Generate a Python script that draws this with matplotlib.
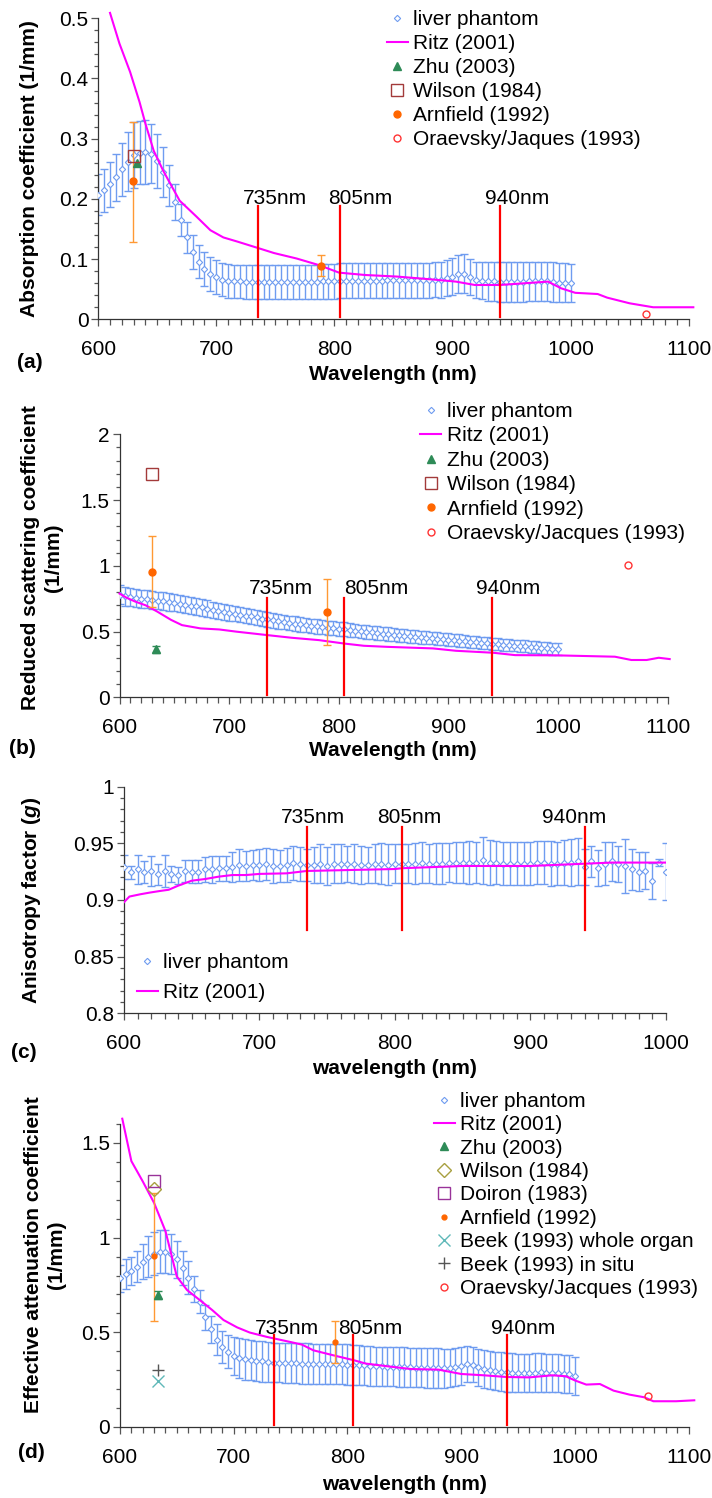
import numpy as np
import matplotlib.pyplot as plt
from matplotlib.lines import Line2D
from matplotlib.ticker import MultipleLocator, FuncFormatter

plt.rcParams['font.family'] = ['Liberation Sans', 'DejaVu Sans']
plt.rcParams['mathtext.fontset'] = 'custom'
plt.rcParams['mathtext.it'] = 'Liberation Sans:bold:italic'
plt.rcParams['mathtext.rm'] = 'Liberation Sans:bold'
plt.rcParams['font.size'] = 15

# ---------------- data ----------------
wl = np.arange(600, 1001, 5)          # liver phantom wavelengths (nm)
marks_nm = [735, 805, 940]            # laser wavelengths

mua_liver = [0.207, 0.214, 0.224, 0.236, 0.249, 0.262, 0.273, 0.277, 0.278, 0.275,
             0.263, 0.245, 0.223, 0.195, 0.165, 0.136, 0.112, 0.096, 0.083, 0.075,
             0.070, 0.066, 0.064, 0.063, 0.063, 0.062, 0.062, 0.062, 0.062, 0.062,
             0.062, 0.062, 0.062, 0.062, 0.062, 0.062, 0.062, 0.062, 0.063, 0.063,
             0.063, 0.064, 0.064, 0.064, 0.064, 0.064, 0.064, 0.064, 0.064, 0.065,
             0.065, 0.065, 0.065, 0.065, 0.065, 0.065, 0.065, 0.066, 0.066, 0.068,
             0.071, 0.075, 0.076, 0.070, 0.066, 0.064, 0.063, 0.063, 0.062, 0.062,
             0.062, 0.062, 0.062, 0.063, 0.063, 0.063, 0.063, 0.062, 0.061, 0.061,
             0.060]
mua_err = [0.034, 0.035, 0.037, 0.039, 0.044, 0.049, 0.055, 0.053, 0.053, 0.049,
           0.045, 0.042, 0.034, 0.030, 0.027, 0.026, 0.028, 0.028, 0.028, 0.028,
           0.028, 0.028, 0.028, 0.028, 0.028, 0.028, 0.028, 0.028, 0.028, 0.028,
           0.028, 0.028, 0.028, 0.028, 0.029, 0.029, 0.029, 0.029, 0.029, 0.029,
           0.029, 0.029, 0.029, 0.029, 0.029, 0.029, 0.029, 0.029, 0.029, 0.029,
           0.029, 0.029, 0.029, 0.029, 0.029, 0.029, 0.029, 0.029, 0.030, 0.030,
           0.031, 0.032, 0.032, 0.030, 0.030, 0.031, 0.032, 0.033, 0.033, 0.033,
           0.033, 0.033, 0.033, 0.033, 0.033, 0.033, 0.033, 0.033, 0.033, 0.032,
           0.032]

mus_liver = [0.780, 0.770, 0.762, 0.756, 0.750, 0.746, 0.742, 0.737, 0.732, 0.726,
             0.720, 0.713, 0.706, 0.699, 0.692, 0.684, 0.676, 0.668, 0.660, 0.652,
             0.645, 0.638, 0.630, 0.623, 0.616, 0.608, 0.600, 0.593, 0.586, 0.579,
             0.573, 0.567, 0.561, 0.555, 0.550, 0.545, 0.540, 0.535, 0.530, 0.526,
             0.522, 0.518, 0.513, 0.508, 0.503, 0.498, 0.494, 0.490, 0.486, 0.482,
             0.478, 0.474, 0.470, 0.466, 0.462, 0.458, 0.455, 0.451, 0.447, 0.444,
             0.440, 0.436, 0.432, 0.428, 0.424, 0.420, 0.416, 0.412, 0.408, 0.404,
             0.401, 0.398, 0.395, 0.392, 0.389, 0.385, 0.382, 0.378, 0.375, 0.371,
             0.368]
mus_err = [0.072, 0.071, 0.070, 0.069, 0.068, 0.068, 0.067, 0.066, 0.066, 0.065,
           0.065, 0.064, 0.064, 0.063, 0.063, 0.062, 0.062, 0.061, 0.061, 0.060,
           0.060, 0.059, 0.059, 0.058, 0.058, 0.057, 0.057, 0.057, 0.056, 0.056,
           0.056, 0.055, 0.055, 0.055, 0.054, 0.054, 0.054, 0.053, 0.053, 0.053,
           0.053, 0.052, 0.052, 0.052, 0.051, 0.051, 0.051, 0.051, 0.050, 0.050,
           0.050, 0.050, 0.049, 0.049, 0.049, 0.049, 0.048, 0.048, 0.048, 0.048,
           0.048, 0.047, 0.047, 0.047, 0.047, 0.047, 0.046, 0.046, 0.046, 0.046,
           0.046, 0.046, 0.045, 0.045, 0.045, 0.045, 0.045, 0.045, 0.045, 0.045,
           0.045]

g_liver = [0.9294, 0.9244, 0.927, 0.9247, 0.9256, 0.9226, 0.9256, 0.923, 0.922, 0.9256,
           0.925, 0.925, 0.927, 0.927, 0.928, 0.928, 0.929, 0.931, 0.930, 0.931,
           0.931, 0.9315, 0.930, 0.930, 0.931, 0.9324, 0.932, 0.931, 0.931, 0.932,
           0.930, 0.932, 0.932, 0.932, 0.932, 0.931, 0.931, 0.932, 0.932, 0.931,
           0.932, 0.932, 0.932, 0.932, 0.933, 0.932, 0.932, 0.932, 0.933, 0.933,
           0.933, 0.933, 0.933, 0.935, 0.933, 0.933, 0.932, 0.932, 0.932, 0.932,
           0.932, 0.933, 0.933, 0.932, 0.932, 0.933, 0.933, 0.934, 0.929, 0.934,
           0.928, 0.932, 0.934, 0.932, 0.930, 0.927, 0.925, 0.926, 0.917, 0.933,
           0.925]
g_err = [0.0105, 0.006, 0.0125, 0.010, 0.013, 0.0095, 0.0145, 0.007, 0.0075, 0.0095,
         0.010, 0.010, 0.011, 0.012, 0.011, 0.011, 0.013, 0.014, 0.013, 0.013,
         0.014, 0.014, 0.015, 0.014, 0.015, 0.015, 0.015, 0.014, 0.016, 0.017,
         0.017, 0.017, 0.017, 0.016, 0.017, 0.017, 0.016, 0.017, 0.018, 0.018,
         0.017, 0.017, 0.017, 0.018, 0.018, 0.017, 0.018, 0.018, 0.017, 0.018,
         0.018, 0.019, 0.018, 0.021, 0.020, 0.019, 0.019, 0.019, 0.019, 0.019,
         0.019, 0.019, 0.019, 0.020, 0.019, 0.020, 0.021, 0.021, 0.016, 0.014,
         0.016, 0.019, 0.017, 0.016, 0.024, 0.018, 0.017, 0.016, 0.016, 0.003,
         0.025]

mueff_liver = [0.785, 0.808, 0.824, 0.847, 0.873, 0.900, 0.915, 0.926, 0.926, 0.912,
               0.886, 0.842, 0.789, 0.729, 0.662, 0.579, 0.515, 0.462, 0.424, 0.397,
               0.376, 0.365, 0.358, 0.353, 0.349, 0.346, 0.342, 0.340, 0.340, 0.339,
               0.338, 0.337, 0.335, 0.334, 0.333, 0.333, 0.332, 0.332, 0.331, 0.331,
               0.330, 0.328, 0.327, 0.325, 0.322, 0.321, 0.320, 0.319, 0.318, 0.317,
               0.316, 0.315, 0.314, 0.313, 0.312, 0.312, 0.311, 0.311, 0.312, 0.315,
               0.322, 0.333, 0.330, 0.316, 0.305, 0.300, 0.296, 0.292, 0.288, 0.287,
               0.286, 0.285, 0.286, 0.287, 0.288, 0.287, 0.286, 0.284, 0.280, 0.279,
               0.268]
mueff_err = [0.073, 0.078, 0.075, 0.080, 0.091, 0.106, 0.113, 0.115, 0.115, 0.105,
             0.097, 0.090, 0.088, 0.067, 0.060, 0.066, 0.070, 0.080, 0.084, 0.088,
             0.100, 0.104, 0.109, 0.107, 0.107, 0.106, 0.106, 0.105, 0.105, 0.105,
             0.106, 0.106, 0.106, 0.107, 0.107, 0.107, 0.107, 0.106, 0.106, 0.106,
             0.106, 0.106, 0.106, 0.105, 0.104, 0.104, 0.104, 0.104, 0.104, 0.104,
             0.104, 0.104, 0.104, 0.104, 0.104, 0.104, 0.104, 0.103, 0.102, 0.100,
             0.098, 0.095, 0.095, 0.097, 0.100, 0.101, 0.101, 0.102, 0.102, 0.102,
             0.102, 0.102, 0.102, 0.102, 0.101, 0.101, 0.101, 0.101, 0.101, 0.101,
             0.100]

# Ritz (2001)
ritz_a_wl = [610, 618, 627, 635, 640, 647, 655, 660, 669, 683, 695, 706, 718, 736, 749,
             768, 787, 804, 826, 853, 884, 903, 919, 940, 962, 981, 992, 1004, 1023,
             1031, 1050, 1070, 1104]
ritz_a = [0.509, 0.458, 0.411, 0.361, 0.325, 0.280, 0.247, 0.229, 0.197, 0.171, 0.148,
          0.136, 0.129, 0.118, 0.110, 0.101, 0.090, 0.0775, 0.0736, 0.071, 0.066,
          0.0626, 0.057, 0.057, 0.060, 0.0626, 0.0515, 0.044, 0.042, 0.036, 0.0266,
          0.020, 0.020]
ritz_b_wl = [600, 606, 614, 624, 634, 647, 657, 674, 691, 707, 735, 757, 782, 805, 823,
             844, 886, 907, 941, 961, 1000, 1052, 1067, 1081, 1092, 1102]
ritz_b = [0.790, 0.760, 0.730, 0.700, 0.655, 0.590, 0.550, 0.525, 0.517, 0.500, 0.474,
          0.454, 0.436, 0.410, 0.393, 0.385, 0.373, 0.355, 0.340, 0.322, 0.320, 0.310,
          0.285, 0.285, 0.302, 0.292]
ritz_c_wl = [600, 604, 612, 619, 627, 633, 640, 650, 660, 670, 680, 690, 700, 720, 735,
             800, 805, 850, 900, 940, 960, 1000]
ritz_c = [0.898, 0.903, 0.905, 0.9065, 0.908, 0.909, 0.9126, 0.917, 0.9185, 0.9206,
          0.922, 0.922, 0.923, 0.9235, 0.9256, 0.9273, 0.928, 0.930, 0.930, 0.932,
          0.933, 0.933]
ritz_d_wl = [602, 610, 620, 630, 640, 650, 659, 670, 681, 691, 703, 714, 729, 752, 760,
             770, 788, 806, 816, 836, 856, 880, 900, 920, 940, 960, 980, 992, 1000, 1010,
             1022, 1034, 1048, 1061, 1069, 1089, 1105]
ritz_d = [1.628, 1.404, 1.297, 1.183, 1.034, 0.794, 0.723, 0.671, 0.618, 0.565, 0.526,
          0.499, 0.476, 0.446, 0.435, 0.405, 0.378, 0.352, 0.335, 0.320, 0.306, 0.303,
          0.280, 0.273, 0.264, 0.262, 0.273, 0.268, 0.246, 0.224, 0.227, 0.192, 0.171,
          0.157, 0.136, 0.136, 0.141]

# literature values
zhu_wl = [633]
zhu_a, zhu_b, zhu_d = [0.259], [0.365], [0.697]
zhu_b_err, zhu_d_err = [0.025], [0.02]
wilson_wl = [630]
wilson_a, wilson_b, wilson_d = [0.271], [1.70], [1.256]
doiron_wl, doiron_d = [630], [1.30]
arnfield_wl = [629.5, 789]
arnfield_a, arnfield_a_lo, arnfield_a_hi = [0.229, 0.089], [0.128, 0.0725], [0.328, 0.106]
arnfield_b, arnfield_b_lo, arnfield_b_hi = [0.954, 0.651], [0.69, 0.398], [1.227, 0.897]
arnfield_d, arnfield_d_lo, arnfield_d_hi = [0.903, 0.449], [0.561, 0.338], [1.235, 0.561]
beek_wl = [633]
beek_whole_d, beek_situ_d = [0.242], [0.30]
oraevsky_wl = [1064]
oraevsky_a, oraevsky_b, oraevsky_d = [0.008], [1.01], [0.165]

# ---------------- colours ----------------
C_LIVER = '#6f9cf0'
C_CAP = '#3f6fe8'
C_RITZ = '#ff00ff'
C_ZHU = '#2e8b57'
C_WILSON = '#a33a3a'
C_WILSON_D = '#a8a040'
C_DOIRON = '#993399'
C_ARN = '#ff6600'
C_ARN_ERR = '#ff9933'
C_ORA = '#ff3333'
C_BEEK_W = '#5fb8b8'
C_BEEK_S = '#555555'

W, H = 712, 1498
fig = plt.figure(figsize=(W / 100, H / 100), dpi=100)


def px_axes(left, top, right, bottom):
    return fig.add_axes([left / W, 1 - bottom / H, (right - left) / W, (bottom - top) / H])


def fig_text(x, y, s, **kw):
    fig.text(x / W, 1 - y / H, s, ha='center', va='center', **kw)


def style_axes(ax, xlim, ylim, ymaj, ymin):
    ax.set_xlim(*xlim)
    ax.set_ylim(*ylim)
    for side in ('top', 'right'):
        ax.spines[side].set_visible(False)
    for side in ('left', 'bottom'):
        ax.spines[side].set_color('#333333')
        ax.spines[side].set_linewidth(0.9)
    ax.xaxis.set_major_locator(MultipleLocator(100))
    ax.xaxis.set_minor_locator(MultipleLocator(10))
    ax.yaxis.set_major_locator(MultipleLocator(ymaj))
    ax.yaxis.set_minor_locator(MultipleLocator(ymin))
    ax.yaxis.set_major_formatter(FuncFormatter(lambda v, p: f"{round(v, 4):g}"))
    ax.tick_params(which='both', direction='out', color='#555555', width=0.9,
                   labelsize=15)
    ax.tick_params(axis='x', which='major', length=5, pad=10)
    ax.tick_params(axis='x', which='minor', length=4)
    ax.tick_params(axis='y', which='major', length=5, pad=2)
    ax.tick_params(axis='y', which='minor', length=3)


def draw_liver(ax, vals, err):
    eb = ax.errorbar(wl, vals, yerr=err, fmt='none', ecolor=C_LIVER, elinewidth=1.0,
                     capsize=3, capthick=1.0, zorder=2)
    for cap in eb[1]:
        cap.set_color(C_CAP)
    ax.plot(wl, vals, 'D', ms=3.2, mfc='white', mec=C_LIVER, mew=0.8, zorder=3)


def draw_marks(ax, y0, y1, ytxt, dx):
    for w, off in zip(marks_nm, dx):
        ax.plot([w, w], [y0, y1], color='#ff0000', lw=1.6, zorder=5, clip_on=False)
        ax.annotate(f"{w}nm", (w, ytxt), xytext=(off, 0), textcoords='offset pixels',
                    ha='center', va='baseline', fontsize=15)


def arnfield(ax, vals, lo, hi, ms):
    v = np.array(vals)
    ax.errorbar(arnfield_wl, v, yerr=[v - np.array(lo), np.array(hi) - v], fmt='none',
                ecolor=C_ARN_ERR, elinewidth=1.0, capsize=3, capthick=1.0, zorder=4)
    ax.plot(arnfield_wl, v, 'o', ms=ms, color=C_ARN, zorder=6)


def legend(ax, entries, x, top, spacing):
    handles = [Line2D([], [], **kw) for kw in entries]
    ax.legend(handles=handles, loc='upper left', bbox_to_anchor=(x / W, 1 - top / H),
              bbox_transform=fig.transFigure, frameon=False, fontsize=15,
              handlelength=1.0, handletextpad=0.25, borderpad=0, borderaxespad=0,
              labelspacing=spacing, numpoints=1)


liver_h = dict(ls='none', marker='D', ms=3.2, mfc='white', mec=C_LIVER, mew=0.8,
               label='liver phantom')
ritz_h = dict(color=C_RITZ, lw=1.5, label='Ritz (2001)')
zhu_h = dict(ls='none', marker='^', ms=5.5, color=C_ZHU, label='Zhu (2003)')
wilson_h = dict(ls='none', marker='s', ms=8, mfc='white', mec=C_WILSON, mew=1.0,
                label='Wilson (1984)')
arn_h = dict(ls='none', marker='o', ms=5, color=C_ARN, label='Arnfield (1992)')
ora_h = dict(ls='none', marker='o', ms=5, mfc='white', mec=C_ORA, mew=1.0,
             label='Oraevsky/Jaques (1993)')

# ---------------- (a) absorption ----------------
ax = px_axes(98.2, 18.3, 688.6, 319.3)
style_axes(ax, (600, 1100), (0, 0.5), 0.1, 0.02)
draw_liver(ax, mua_liver, mua_err)
ax.plot(ritz_a_wl, ritz_a, color=C_RITZ, lw=1.5, zorder=4, clip_on=False)
ax.plot(zhu_wl, zhu_a, '^', ms=5.5, color=C_ZHU, zorder=6)
ax.plot(wilson_wl, wilson_a, 's', ms=8, mfc='none', mec=C_WILSON, mew=1.0, zorder=6)
arnfield(ax, arnfield_a, arnfield_a_lo, arnfield_a_hi, 5)
ax.plot(oraevsky_wl, oraevsky_a, 'o', ms=5, mfc='none', mec=C_ORA, mew=1.0, zorder=6,
        clip_on=False)
draw_marks(ax, 0.004, 0.188, 0.191, [17, 20, 17])
legend(ax, [liver_h, ritz_h, zhu_h, wilson_h, arn_h, ora_h], 387, 10, 0.24)
fig_text(30, 169, 'Absorption coefficient (1/mm)', rotation=90, fontweight='bold')
fig_text(393, 375, 'Wavelength (nm)', fontweight='bold')
fig_text(30, 362, '(a)', fontweight='bold')

# ---------------- (b) reduced scattering ----------------
ax = px_axes(119.5, 434.3, 667.5, 697.5)
style_axes(ax, (600, 1100), (0, 2), 0.5, 0.1)
draw_liver(ax, mus_liver, mus_err)
ax.plot(ritz_b_wl, ritz_b, color=C_RITZ, lw=1.5, zorder=4, clip_on=False)
ax.errorbar(zhu_wl, zhu_b, yerr=zhu_b_err, fmt='none', ecolor=C_ZHU, elinewidth=1.0,
            capsize=3, zorder=5)
ax.plot(zhu_wl, zhu_b, '^', ms=5.5, color=C_ZHU, zorder=6)
ax.plot(wilson_wl, wilson_b, 's', ms=8, mfc='none', mec=C_WILSON, mew=1.0, zorder=6)
arnfield(ax, arnfield_b, arnfield_b_lo, arnfield_b_hi, 5)
ax.plot(oraevsky_wl, oraevsky_b, 'o', ms=5, mfc='none', mec=C_ORA, mew=1.0, zorder=6)
draw_marks(ax, 0.02, 0.756, 0.79, [13, 32, 16])
legend(ax, [liver_h, ritz_h, zhu_h, wilson_h, arn_h,
            dict(ora_h, label='Oraevsky/Jacques (1993)')], 420.5, 402, 0.26)
fig_text(42, 558, 'Reduced scattering coefficient\n(1/mm)', rotation=90,
         fontweight='bold', linespacing=1.25)
fig_text(393, 750, 'Wavelength (nm)', fontweight='bold')
fig_text(22, 748, '(b)', fontweight='bold')

# ---------------- (c) anisotropy ----------------
ax = px_axes(124, 786.7, 665.8, 1013.2)
style_axes(ax, (600, 1000), (0.8, 1.0), 0.05, 0.01)
draw_liver(ax, g_liver, g_err)
ax.plot(ritz_c_wl, ritz_c, color=C_RITZ, lw=1.5, zorder=4)
draw_marks(ax, 0.8735, 0.964, 0.968, [6, 8, -10])
legend(ax, [liver_h, ritz_h], 137, 953, 0.54)
fig_text(32, 900, r'Anisotropy factor ($g$)', rotation=90, fontweight='bold')
fig_text(395, 1068, 'wavelength (nm)', fontweight='bold')
fig_text(24, 1053, '(c)', fontweight='bold')

# ---------------- (d) effective attenuation ----------------
ax = px_axes(120, 1124, 688.6, 1427)
style_axes(ax, (600, 1100), (0, 1.6), 0.5, 0.1)
draw_liver(ax, mueff_liver, mueff_err)
ax.plot(ritz_d_wl, ritz_d, color=C_RITZ, lw=1.5, zorder=4, clip_on=False)
ax.errorbar(zhu_wl, zhu_d, yerr=zhu_d_err, fmt='none', ecolor=C_ZHU, elinewidth=1.0,
            capsize=3, zorder=5)
ax.plot(zhu_wl, zhu_d, '^', ms=5.5, color=C_ZHU, zorder=6)
ax.plot(wilson_wl, wilson_d, 'D', ms=7, mfc='none', mec=C_WILSON_D, mew=1.0, zorder=6)
ax.plot(doiron_wl, doiron_d, 's', ms=8, mfc='none', mec=C_DOIRON, mew=1.0, zorder=6)
arnfield(ax, arnfield_d, arnfield_d_lo, arnfield_d_hi, 3.5)
ax.plot(beek_wl, beek_whole_d, 'x', ms=8, color=C_BEEK_W, mew=1.0, zorder=6)
ax.plot(beek_wl, beek_situ_d, '+', ms=8, color=C_BEEK_S, mew=1.0, zorder=6)
ax.plot(oraevsky_wl, oraevsky_d, 'o', ms=5, mfc='none', mec=C_ORA, mew=1.0, zorder=6)
draw_marks(ax, 0.012, 0.4875, 0.49, [13, 17, 16])
legend(ax, [liver_h, ritz_h, zhu_h,
            dict(ls='none', marker='D', ms=7, mfc='white', mec=C_WILSON_D, mew=1.0,
                 label='Wilson (1984)'),
            dict(ls='none', marker='s', ms=8, mfc='white', mec=C_DOIRON, mew=1.0,
                 label='Doiron (1983)'),
            dict(ls='none', marker='o', ms=3.5, color=C_ARN, label='Arnfield (1992)'),
            dict(ls='none', marker='x', ms=8, color=C_BEEK_W, mew=1.0,
                 label='Beek (1993) whole organ'),
            dict(ls='none', marker='+', ms=8, color=C_BEEK_S, mew=1.0,
                 label='Beek (1993) in situ'),
            dict(ora_h, label='Oraevsky/Jacques (1993)')], 434, 1092, 0.21)
fig_text(45, 1255, 'Effective attenuation coefficient\n(1/mm)', rotation=90,
         fontweight='bold', linespacing=1.25)
fig_text(404, 1485, 'wavelength (nm)', fontweight='bold')
fig_text(31, 1452, '(d)', fontweight='bold')

fig.savefig('out.png', dpi=100)
